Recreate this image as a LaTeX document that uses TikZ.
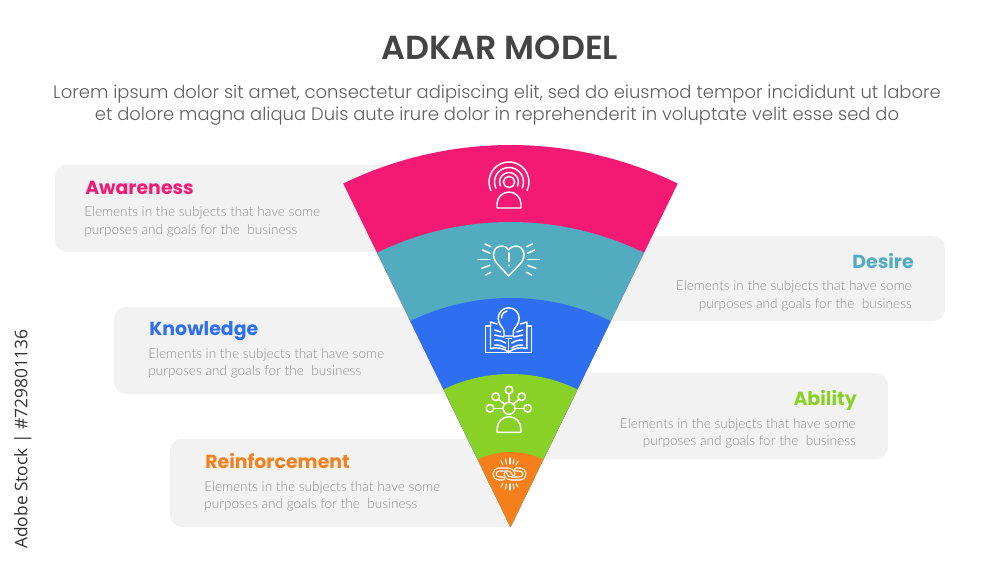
\documentclass[tikz,border=0pt]{standalone}
\usepackage{fontspec}
\setmainfont{Lato Light}
\newfontfamily\popf{Poppins}[BoldFont={Poppins SemiBold}]
\newfontfamily\popb{Poppins}[BoldFont={Poppins Bold}]
\newfontfamily\popl{Poppins Light}
\newfontfamily\stockf{Open Sans}
\definecolor{cpink}{HTML}{F41A74}
\definecolor{cteal}{HTML}{52ABBE}
\definecolor{cblue}{HTML}{2E6FF2}
\definecolor{cgreen}{HTML}{8AD127}
\definecolor{corange}{HTML}{F5801B}
\definecolor{cbox}{HTML}{F2F2F2}
\definecolor{cbody}{HTML}{8E8E8E}
\definecolor{clead}{HTML}{5F5F5F}
\definecolor{ctitle}{HTML}{444444}
\tikzset{
  panel/.style={fill=cbox,draw=none},
  headl/.style={anchor=base west,inner sep=0pt,font=\popb\bfseries\fontsize{14.2}{16}\selectfont},
  headr/.style={anchor=base east,inner sep=0pt,font=\popb\bfseries\fontsize{14.2}{16}\selectfont},
  bodyl/.style={anchor=base west,inner sep=0pt,text=cbody,font=\fontsize{10.2}{12}\selectfont},
  bodyr/.style={anchor=base east,inner sep=0pt,text=cbody,font=\fontsize{10.2}{12}\selectfont},
  leadtext/.style={anchor=base,inner sep=0pt,text=clead,font=\popl\fontsize{13.47}{16}\selectfont},
  ico/.style={draw=white,line width=1.1pt,line cap=round,line join=round},
}
\newcommand{\sector}[2]{\fill[#1] (0,0) -- (64.04:#2) arc[start angle=64.04,end angle=115.96,radius=#2] -- cycle;}
\newcommand{\bodytwo}{purposes and goals for the\ \ business}
\begin{document}
\begin{tikzpicture}[x=.75pt,y=-.75pt]
\useasboundingbox (0,0) rectangle (1000,563);
\fill[white] (0,0) rectangle (1000,563);
% panels
\fill[panel,rounded corners=9pt] (55,165) rectangle (420,252);
\fill[panel,rounded corners=9pt] (600,236) rectangle (945,321);
\fill[panel,rounded corners=9pt] (114,307) rectangle (470,394);
\fill[panel,rounded corners=9pt] (530,373) rectangle (888,459);
\fill[panel] (190,439) -- (510,439) -- (510,527) -- (190,527) [rounded corners=9pt] -- (170,527) -- (170,439) -- cycle;
% funnel
\begin{scope}[shift={(510.5,527)},yscale=-1]
\sector{cpink}{382}
\sector{cteal}{305}
\sector{cblue}{229}
\sector{cgreen}{153}
\sector{corange}{75}
\end{scope}
% title
\node[anchor=base,inner sep=0pt,text=ctitle,font=\popf\bfseries\fontsize{25}{28}\selectfont] (title) at (500,60) {ADKAR MODEL};
\node[leadtext] (lead1) at (497,99) {Lorem ipsum dolor sit amet, consectetur adipiscing elit, sed do eiusmod tempor incididunt ut labore};
\node[leadtext] (lead2) at (497,121) {et dolore magna aliqua Duis aute irure dolor in reprehenderit in voluptate velit esse sed do};
% labels
\node[headl,text=cpink] (h1) at (85,195) {Awareness};
\node[bodyl] (b1a) at (84,217) {Elements in the subjects that have some};
\node[bodyl] (b1b) at (84,234) {\bodytwo};
\node[headr,text=cteal] (h2) at (914,268) {Desire};
\node[bodyr] (b2a) at (912,291) {Elements in the subjects that have some};
\node[bodyr] (b2b) at (912,308) {\bodytwo};
\node[headl,text=cblue] (h3) at (149,335) {Knowledge};
\node[bodyl] (b3a) at (148,358) {Elements in the subjects that have some};
\node[bodyl] (b3b) at (148,375) {\bodytwo};
\node[headr,text=cgreen] (h4) at (857,405) {Ability};
\node[bodyr] (b4a) at (856,428) {Elements in the subjects that have some};
\node[bodyr] (b4b) at (856,445) {\bodytwo};
\node[headl,text=corange] (h5) at (205,468) {Reinforcement};
\node[bodyl] (b5a) at (204,491) {Elements in the subjects that have some};
\node[bodyl] (b5b) at (204,508) {\bodytwo};
% stock line
\node[rotate=90,anchor=center,inner sep=0pt,text=black!80,font=\stockf\fontsize{13}{14}\selectfont] (stock) at (23,439) {Adobe Stock | \#729801136};
% icon 1: awareness
\begin{scope}[ico]
\draw (509,182) circle[radius=5.6];
\foreach \r in {9.5,14.5,20}{\draw (509,182) ++(-205:\r) arc[start angle=-205,end angle=25,radius=\r];}
\draw (497,208) -- (521,208) -- (521,204) arc[start angle=0,end angle=-180,radius=12] -- cycle;
\end{scope}
% icon 2: heart
\begin{scope}[ico]
\draw (508.7,276) -- (497,263.5) .. controls (491,257) and (493,246) .. (502,246) .. controls (505,246) and (507.5,248) .. (508.7,250)
 .. controls (510,248) and (512.5,246) .. (515.5,246) .. controls (524.5,246) and (526.5,257) .. (520.5,263.5) -- cycle;
\draw[line width=1.4pt] (508.7,253) -- (508.7,261.5);
\draw[line width=1.4pt] (508.7,265.3) -- (508.7,265.6);
\foreach \s in {1,-1}{
\begin{scope}[shift={(508.7,0)},xscale=\s]
\draw (-30.7,259.5) -- (-18.7,259.5);
\draw (-26,250) -- (-18.7,253.3);
\draw (-27,268.3) -- (-18.7,265.3);
\draw (-23.7,244) -- (-18,246.7);
\draw (-23,275) -- (-18,272.3);
\end{scope}}
\end{scope}
% icon 3: book and bulb
\begin{scope}[ico]
\draw (504,336) -- (504,331) .. controls (503,327) and (498.2,325) .. (498.2,318.3) arc[start angle=180,end angle=360,radius=10.5] .. controls (519.2,325) and (514.4,327) .. (513.4,331) -- (513.4,336) -- cycle;
\draw (506,338.5) -- (511.4,338.5);
\draw (501.5,318) .. controls (501.5,314) and (504,311.5) .. (507,311);
\draw (508.7,339) -- (508.7,353);
\draw (497,324) -- (490.5,322) -- (490.5,348.5) .. controls (497,347) and (503,348) .. (508.7,352) .. controls (514.4,348) and (520.4,347) .. (526.9,348.5) -- (526.9,322) -- (520.4,324);
\draw (490.5,326) -- (485.7,326) -- (485.7,352.5) -- (531.7,352.5) -- (531.7,326) -- (526.9,326);
\foreach \s in {1,-1}{
\begin{scope}[shift={(508.7,0)},xscale=\s]
\draw (-14,330) -- (-8,332);
\draw (-14,335) -- (-5,337);
\draw (-14,340) .. controls (-9,340) and (-6,341) .. (-3,343);
\draw (-14,345) .. controls (-9,345) and (-6,346) .. (-3,348);
\end{scope}}
\end{scope}
% icon 4: ability
\begin{scope}[ico]
\draw (509,408.3) circle[radius=6];
\draw (497.2,432.3) -- (520.8,432.3) -- (520.8,428.5) arc[start angle=0,end angle=-180,radius=11.8] -- cycle;
\draw (509,390) circle[radius=3.8];
\draw (495.7,396.7) circle[radius=3.8];
\draw (521.7,396.7) circle[radius=3.8];
\draw (490,408.3) circle[radius=3.8];
\draw (527.7,408.3) circle[radius=3.8];
\draw (509,393.8) -- (509,402.3);
\draw (498.4,399.4) -- (504.8,404.1);
\draw (519,399.4) -- (513.2,404.1);
\draw (493.8,408.3) -- (503,408.3);
\draw (523.9,408.3) -- (515,408.3);
\end{scope}
% icon 5: chain
\begin{scope}[line cap=round,line join=round]
\foreach \c/\w in {white/3.1pt,corange/1.4pt}{
\draw[draw=\c,line width=\w] (503,478.5) -- (499,478.5) arc[start angle=90,end angle=270,radius=4.5] -- (508,469.5) .. controls (511,469.5) and (513,471.5) .. (513.5,474);
\draw[draw=\c,line width=\w] (516,469.5) -- (520,469.5) arc[start angle=-90,end angle=90,radius=4.5] -- (511,478.5) .. controls (508,478.5) and (506,476.5) .. (505.5,474);
}
\end{scope}
\begin{scope}[ico,line width=.8pt]
\foreach \a/\b/\c/\d in {501/461/503/465, 505.5/459/506.5/464, 510/458/510/464, 514/459/513/464, 518/461/516/465,
 501/487/503/483.5, 505.5/489/506.5/484, 510/490/510/484, 514/489/513/484, 518/487/516/483.5}{
 \draw (\a,\b) -- (\c,\d);}
\end{scope}
\end{tikzpicture}
\end{document}
